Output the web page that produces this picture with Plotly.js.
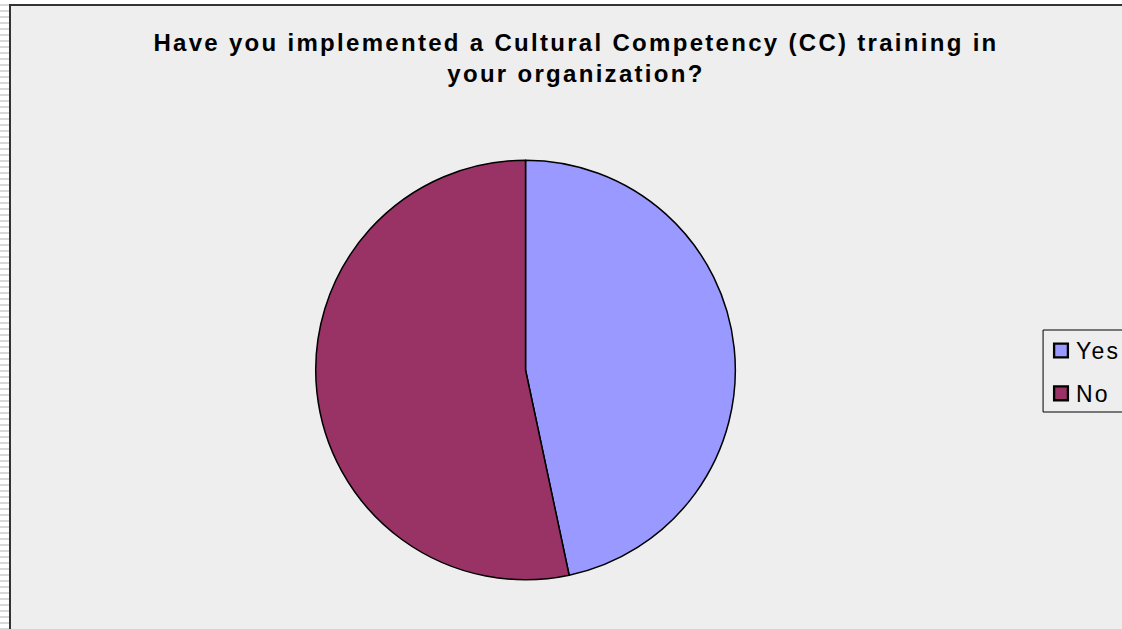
<!DOCTYPE html>
<html>
<head>
<meta charset="utf-8">
<script src="https://cdn.plot.ly/plotly-3.0.1.min.js"></script>
<style>
html, body { margin:0; padding:0; width:1122px; height:629px; overflow:hidden;
  background: repeating-linear-gradient(to bottom, #ffffff 0px, #ffffff 4px, #d8d8d8 4px, #d8d8d8 6px); }
#chart { position:absolute; left:9px; top:4px; width:1113px; height:625px;
  border-left:2px solid #333; border-top:2px solid #333; background:#eeeeee; }
.gtitle { letter-spacing: 2.3px; }
</style>
</head>
<body>
<div id="chart"></div>
<script>
const categories = ["Yes", "No"];
const values = [7, 8];
const colors = ["#9999FF", "#993366"];
const titleText = "Have you implemented a Cultural Competency (CC) training in<br>your organization?";

const W = 1113, H = 625;
const OX = 11, OY = 6; // page offset of the chart div content
const data = [{
  type: "pie",
  labels: categories,
  values: values,
  sort: false,
  direction: "clockwise",
  rotation: 0,
  textinfo: "none",
  hoverinfo: "label+percent",
  marker: { colors: colors, line: { color: "#000000", width: 1.5 } },
  domain: { x: [305 / W, 725 / W], y: [1 - 574 / H, 1 - 154 / H] }
}];
const layout = {
  width: W, height: H,
  margin: { l: 0, r: 0, t: 0, b: 0 },
  paper_bgcolor: "#eeeeee",
  plot_bgcolor: "#eeeeee",
  title: {
    text: titleText,
    font: { family: "Liberation Sans, Arial, sans-serif", size: 24, color: "#000000", weight: "bold" },
    x: 565 / W, xanchor: "center",
    y: 1 - 45 / H, yanchor: "top"
  },
  showlegend: true,
  legend: {
    x: 1031 / W, xanchor: "left",
    y: 1 - 367 / H, yanchor: "middle",
    bgcolor: "rgba(0,0,0,0)",
    borderwidth: 0,
    font: { family: "Liberation Sans, Arial, sans-serif", size: 23, color: "#000000" },
    itemsizing: "constant"
  },
  shapes: [{
    type: "rect", xref: "paper", yref: "paper", layer: "below",
    x0: (1044 - OX) / W, x1: (1140 - OX) / W,
    y0: 1 - (412 - OY) / H, y1: 1 - (330 - OY) / H,
    line: { color: "#000000", width: 1 }, fillcolor: "#eeeeee"
  }]
};
Plotly.newPlot("chart", data, layout, { displayModeBar: false, staticPlot: true }).then(function (gd) {
  // widen the gap between legend entries and set symbol/text spacing as in the reference
  const items = gd.querySelectorAll(".legend .traces");
  items.forEach(function (g, i) {
    const t = g.getAttribute("transform") || "";
    const m = t.match(/translate\(([-\d.]+)[ ,]+([-\d.]+)\)/);
    if (m) {
      const x = parseFloat(m[1]), y = parseFloat(m[2]);
      g.setAttribute("transform", "translate(" + x + "," + (y - 6 + i * 10) + ")");
    }
    const txt = g.querySelector("text.legendtext");
    if (txt) { txt.setAttribute("x", 35); txt.style.letterSpacing = "2.2px"; }
    const sym = g.querySelector(".legendpoints path");
    if (sym) sym.setAttribute("transform", "translate(20,0) scale(1.15)");
  });
});
</script>
</body>
</html>
